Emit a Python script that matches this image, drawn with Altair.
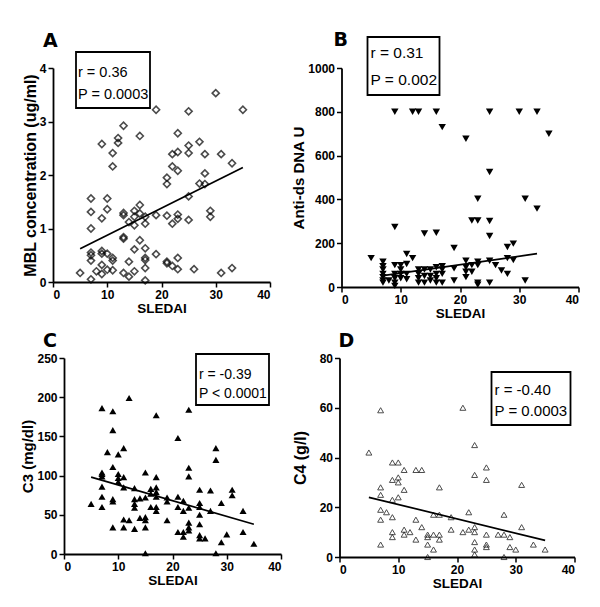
import altair as alt
import pandas as pd

# ---------------- Panel A: MBL vs SLEDAI ----------------
a_x = [30, 35, 19, 25, 13, 9, 12, 12, 16, 11, 11, 23, 27, 25, 25, 22, 23, 28, 31, 33,
       22, 23, 28, 21, 21, 27, 28, 25, 29, 29, 7, 7, 7, 9, 10, 10, 13, 13, 14, 15,
       15, 15, 16, 16, 17, 17, 19, 21, 22, 23, 23, 25, 13, 13, 16, 15, 17, 7, 7, 7,
       9, 9, 10, 11, 11, 11, 9, 8, 9, 10, 5, 7, 13, 14, 14, 15, 17, 17, 17, 17,
       19, 21, 21, 22, 23, 23, 26, 31, 33]
a_y = [3.53, 3.22, 3.22, 3.19, 2.92, 2.58, 2.69, 2.60, 2.73, 2.41, 2.16, 2.78, 2.62, 2.55, 2.41, 2.39, 2.43, 2.39, 2.39, 2.22,
       2.16, 2.08, 2.03, 1.95, 1.83, 1.84, 1.83, 1.60, 1.33, 1.22, 1.56, 1.31, 1.00, 1.19, 1.56, 1.36, 1.29, 1.25, 1.12, 1.33,
       1.22, 1.06, 1.44, 1.28, 1.22, 1.09, 1.25, 1.24, 1.09, 1.26, 1.18, 1.16, 0.84, 0.81, 0.78, 0.61, 0.63, 0.55, 0.50, 0.40,
       0.58, 0.53, 0.53, 0.45, 0.40, 0.22, 0.32, 0.20, 0.15, 0.23, 0.17, 0.05, 0.17, 0.38, 0.10, 0.20, 0.45, 0.41, 0.26, 0.03,
       0.52, 0.38, 0.35, 0.30, 0.45, 0.24, 0.24, 0.17, 0.26]
a_fit_x = [5, 35]
a_fit_y = [0.62, 2.14]

# ---------------- Panel B: Anti-ds DNA vs SLEDAI ----------------
b_x = [9, 12, 13, 16, 25, 30, 33, 17, 21, 35, 25, 23, 31, 33, 22, 23, 25, 25, 9, 14,
       16, 19, 28, 29, 5, 11, 12, 28, 29,
       7, 7, 7, 7, 7, 7, 7, 8, 9, 9, 9, 9, 9, 10, 10, 10, 10, 11, 11, 11,
       13, 13, 13, 13, 14, 14, 14, 15, 15, 15, 16, 16, 16, 16, 17, 17, 17, 17,
       19, 19, 21, 21, 21, 21, 22, 22, 23, 23, 23, 23, 25, 25, 26, 27, 28, 31]
b_y = [800, 800, 800, 800, 800, 800, 800, 730, 677, 700, 525, 403, 403, 358, 304, 304, 301, 233, 274, 244,
       248, 178, 183, 198, 132, 151, 132, 132, 123,
       115, 95, 80, 60, 45, 30, 20, 30, 100, 60, 40, 20, 5, 100, 80, 60, 40, 105, 60, 35,
       80, 60, 40, 20, 80, 50, 20, 80, 50, 30, 90, 60, 40, 20, 95, 80, 60, 20,
       85, 30, 120, 90, 70, 45, 100, 70, 115, 100, 20, 10, 120, 20, 100, 75, 60, 30]
b_fit_x = [7, 33]
b_fit_y = [52, 152]

# ---------------- Panel C: C3 vs SLEDAI ----------------
c_x = [7, 9, 12, 17, 23, 9, 21, 8, 10, 11, 28, 28, 9, 23, 23, 7, 7, 7, 10, 10,
       10, 11, 15, 17, 7, 11, 13, 7, 7, 9, 9, 5, 13, 13, 13, 14, 16, 16, 17, 17,
       17, 15, 16, 17, 17, 19, 19, 21, 21, 22, 23, 22, 25, 27, 25, 25, 27, 29, 31, 31,
       33, 11, 11, 12, 9, 13, 14, 15, 15, 15, 19, 25, 25, 23, 23, 23, 21, 22, 22, 25,
       25, 26, 30, 33, 29, 35, 15, 28]
c_y = [186, 182, 199, 177, 184, 158, 148, 130, 127, 135, 135, 120, 111, 110, 99, 104, 102, 99, 102, 97,
       92, 98, 104, 98, 86, 85, 84, 73, 60, 70, 67, 64, 70, 64, 59, 71, 83, 77, 85, 79,
       73, 72, 60, 60, 55, 72, 67, 73, 60, 68, 59, 55, 82, 81, 65, 60, 55, 65, 82, 75,
       55, 44, 34, 43, 34, 32, 46, 47, 43, 34, 43, 50, 38, 40, 34, 30, 28, 28, 22, 24,
       20, 20, 25, 28, 15, 13, 1, 1]
c_fit_x = [5, 35]
c_fit_y = [98, 38]

# ---------------- Panel D: C4 vs SLEDAI ----------------
d_x = [7, 21, 5, 23, 9, 10, 11, 13, 14, 25, 25, 23, 9, 10, 10, 31, 7, 11, 17, 7,
       10, 9, 7, 7, 8, 9, 22, 28, 16, 17, 19, 13, 14, 31, 9, 9, 11, 11, 12, 13,
       19, 21, 22, 23, 23, 16, 15, 15, 15, 17, 17, 7, 16, 25, 27, 28, 29, 23, 23, 23,
       25, 25, 29, 30, 33, 35, 15, 28]
d_y = [59, 60, 42, 45, 38, 38, 35, 35, 35, 36, 31, 33, 31, 32, 30, 29, 28, 27, 28, 25,
       24, 23, 19, 15, 18, 16, 18, 17, 17, 17, 16, 15, 12, 12, 10, 8, 11, 9, 10, 7,
       11, 10, 11, 12, 10, 9, 9, 8, 5, 9, 7, 5, 3, 9, 9, 9, 8, 6, 3, 1,
       5, 4, 4, 3, 5, 3, 0, 0]
d_fit_x = [5, 35]
d_fit_y = [24, 6.7]

FONT = "Liberation Sans, Arial, sans-serif"


def panel(xs, ys, fx, fy, ymax, ystep, ytitle, ytsize, ytpad, mark, w, h,
          label, lab_pos, stats, box, txt_pos, fsize, lh, shift=0):
    df = pd.DataFrame({"x": xs, "y": ys})
    fit = pd.DataFrame({"x": fx, "y": fy})
    xscale = alt.Scale(domain=[0, 40], nice=False)
    if shift:
        xscale = alt.Scale(domain=[0, 40], nice=False, range=[shift, w])
    X = alt.X("x:Q", scale=xscale,
              axis=alt.Axis(values=[0, 10, 20, 30, 40], tickCount=20, title="SLEDAI", format="d",
                            labelOverlap=False, labelFontWeight="bold",
                            titleFontSize=13.5, titlePadding=1))
    yaxis = dict(values=list(range(0, ymax + 1, ystep)), tickCount=20, title=ytitle,
                 format="d", labelOverlap=False, labelFontWeight="bold",
                 titleFontSize=ytsize, titlePadding=ytpad)
    if shift:
        yaxis["offset"] = -shift
    Y = alt.Y("y:Q", scale=alt.Scale(domain=[0, ymax], nice=False), axis=alt.Axis(**yaxis))
    pts = alt.Chart(df).mark_point(color="black", **mark).encode(x=X, y=Y)
    line = alt.Chart(fit).mark_line(color="black", strokeWidth=1.7).encode(x="x:Q", y="y:Q")
    rect = alt.Chart(pd.DataFrame({"k": [0]})).mark_rect(
        fill="white", stroke="black", strokeWidth=1.8).encode(
        x=alt.value(box[0] + shift), x2=alt.value(box[1] + shift),
        y=alt.value(box[2]), y2=alt.value(box[3]))
    txt = alt.Chart(pd.DataFrame({"t": [stats]})).mark_text(
        align="left", baseline="alphabetic", lineBreak="\n", font=FONT,
        fontSize=fsize, lineHeight=lh, color="black").encode(
        x=alt.value(txt_pos[0] + shift), y=alt.value(txt_pos[1]), text="t:N")
    lab = alt.Chart(pd.DataFrame({"t": [label]})).mark_text(
        align="left", baseline="alphabetic", font="DejaVu Sans", fontWeight="bold",
        fontSize=19, color="black").encode(
        x=alt.value(lab_pos[0] + shift), y=alt.value(lab_pos[1]), text="t:N")
    return alt.layer(pts, line, rect, txt, lab).properties(width=w, height=h)


pA = panel(a_x, a_y, a_fit_x, a_fit_y, 4, 1, "MBL concentration (ug/ml)", 16, 1,
           dict(shape="diamond", filled=False, size=50, strokeWidth=1.6), 217, 214,
           "A", (-10, -21), "r = 0.36\nP = 0.0003", (23, 97, -16, 40), (25, 9), 14.5, 22)
pB = panel(b_x, b_y, b_fit_x, b_fit_y, 1000, 200, "Anti-ds DNA U", 15, 1,
           dict(shape="triangle-down", filled=True, size=55, opacity=1), 237, 219,
           "B", (-8, -22), "r = 0.31\nP = 0.002", (26, 98, -31, 27), (29, -10), 15.5, 27)
pC = panel(c_x, c_y, c_fit_x, c_fit_y, 250, 50, "C3 (mg/dl)", 15, 1,
           dict(shape="triangle-up", filled=True, size=50, opacity=1), 228, 196,
           "C", (-21, -11), "r = -0.39\nP < 0.0001", (132, 205, -4, 47), (135, 21), 14, 19,
           shift=11)
pD = panel(d_x, d_y, d_fit_x, d_fit_y, 80, 20, "C4 (g/l)", 16, 11,
           dict(shape="triangle-up", filled=False, size=35, strokeWidth=1.0), 235, 199,
           "D", (-1, -11), "r = -0.40\nP = 0.0003", (152, 231, 14, 67), (155, 37), 15, 21)

chart = alt.concat(
    pA, pB, pC, pD, columns=2,
    spacing={"row": 12, "column": 9.5},
    align={"row": "each", "column": "none"},
).properties(
    padding={"left": 12, "top": 23, "right": 0, "bottom": 0},
    background="white",
).configure_view(stroke=None).configure_axis(
    grid=False, domainColor="black", domainWidth=1.8, tickColor="black",
    tickWidth=1.5, tickSize=5, labelFont=FONT, labelFontWeight="bold",
    labelFontSize=12, labelColor="black", labelPadding=2, titleColor="black",
    titleFont=FONT, titleFontWeight="bold",
)

chart.save("out.html", embed_options={"renderer": "svg", "actions": False})
